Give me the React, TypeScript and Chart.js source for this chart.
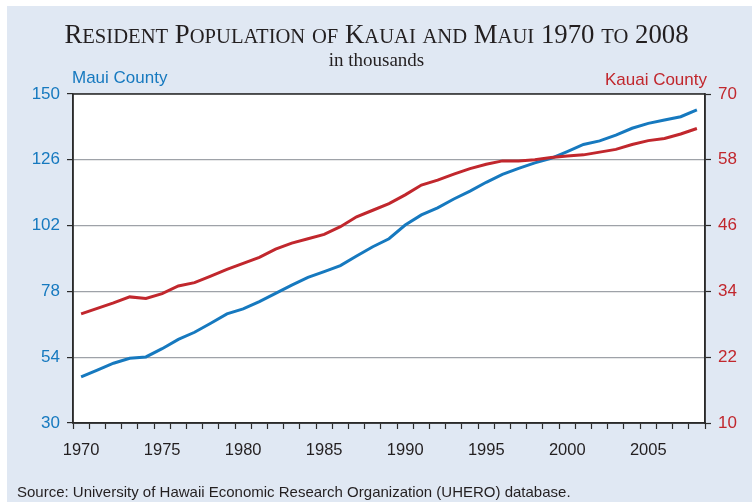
import React, { useEffect, useRef } from 'react';
import { Chart, registerables } from 'chart.js';

Chart.register(...registerables);

const years = [
  '1970', '1971', '1972', '1973', '1974', '1975', '1976', '1977', '1978', '1979',
  '1980', '1981', '1982', '1983', '1984', '1985', '1986', '1987', '1988', '1989',
  '1990', '1991', '1992', '1993', '1994', '1995', '1996', '1997', '1998', '1999',
  '2000', '2001', '2002', '2003', '2004', '2005', '2006', '2007', '2008',
];

// Maui County resident population (thousands), left axis
const mauiValues = [
  46.8, 49.3, 51.8, 53.6, 54.1, 57.1, 60.5, 63.1, 66.4, 69.8,
  71.6, 74.3, 77.3, 80.3, 83.1, 85.2, 87.4, 90.9, 94.3, 97.2,
  102.2, 105.9, 108.5, 111.7, 114.6, 117.8, 120.7, 122.9, 124.9, 126.5,
  129.0, 131.6, 132.9, 135.0, 137.5, 139.3, 140.5, 141.7, 144.2,
];

// Kauai County resident population (thousands), right axis
const kauaiValues = [
  29.9, 30.9, 31.9, 33.0, 32.7, 33.6, 35.0, 35.6, 36.8, 38.0,
  39.1, 40.2, 41.7, 42.8, 43.6, 44.4, 45.8, 47.6, 48.8, 50.0,
  51.6, 53.4, 54.3, 55.4, 56.4, 57.2, 57.8, 57.8, 58.0, 58.4,
  58.7, 58.9, 59.4, 59.9, 60.8, 61.5, 61.9, 62.7, 63.7,
];

const leftTicks = [30, 54, 78, 102, 126, 150];
const rightTicks = [10, 22, 34, 46, 58, 70];

const titleText = 'Resident Population of Kauai and Maui 1970 to 2008';
const subtitleText = 'in thousands';
const leftAxisName = 'Maui County';
const rightAxisName = 'Kauai County';
const sourceText = 'Source: University of Hawaii Economic Research Organization (UHERO) database.';

const BLUE = '#1679bf';
const RED = '#c1272d';
const PANEL = '#e0e8f3';
const SANS = '"Liberation Sans", Arial, sans-serif';
const SERIF = '"Liberation Serif", "Times New Roman", serif';

function drawSmallCaps(
  ctx: CanvasRenderingContext2D,
  text: string,
  cx: number,
  baseline: number,
  big: number,
  small: number
) {
  const segs: { t: string; size: number }[] = [];
  for (const ch of text) {
    const lower = ch !== ch.toUpperCase();
    const size = lower ? small : big;
    const t = lower ? ch.toUpperCase() : ch;
    const last = segs[segs.length - 1];
    if (last && last.size === size) last.t += t;
    else segs.push({ t, size });
  }
  let total = 0;
  const widths: number[] = [];
  for (const s of segs) {
    ctx.font = `${s.size}px ${SERIF}`;
    const w = ctx.measureText(s.t).width;
    widths.push(w);
    total += w;
  }
  let x = cx - total / 2;
  ctx.textAlign = 'left';
  ctx.textBaseline = 'alphabetic';
  segs.forEach((s, i) => {
    ctx.font = `${s.size}px ${SERIF}`;
    ctx.fillText(s.t, x, baseline);
    x += widths[i];
  });
}

const decorPlugin = {
  id: 'decor',
  beforeDraw(chart: any) {
    const { ctx, chartArea, width, height } = chart;
    ctx.save();
    ctx.fillStyle = PANEL;
    ctx.fillRect(0, 0, width, height);
    ctx.fillStyle = '#ffffff';
    ctx.fillRect(chartArea.left, chartArea.top, chartArea.right - chartArea.left, chartArea.bottom - chartArea.top);
    ctx.restore();
  },
  afterDraw(chart: any) {
    const { ctx, chartArea } = chart;
    ctx.save();
    ctx.strokeStyle = '#2b2b2b';
    ctx.lineWidth = 1.5;
    ctx.strokeRect(chartArea.left, chartArea.top, chartArea.right - chartArea.left, chartArea.bottom - chartArea.top);

    ctx.fillStyle = '#231f20';
    drawSmallCaps(ctx, titleText, 369.5, 37, 26.8, 20.6);

    ctx.font = `19px ${SERIF}`;
    ctx.textAlign = 'center';
    ctx.textBaseline = 'alphabetic';
    ctx.fillText(subtitleText, 369.5, 60);

    ctx.font = `17px ${SANS}`;
    ctx.fillStyle = BLUE;
    ctx.textAlign = 'left';
    ctx.fillText(leftAxisName, chartArea.left - 1, 77);
    ctx.fillStyle = RED;
    ctx.textAlign = 'right';
    ctx.fillText(rightAxisName, chartArea.right + 2, 79);

    ctx.font = `15px ${SANS}`;
    ctx.fillStyle = '#231f20';
    ctx.textAlign = 'left';
    ctx.fillText(sourceText, 10, 491);
    ctx.restore();
  },
};

export default function App() {
  const canvasRef = useRef<HTMLCanvasElement | null>(null);

  useEffect(() => {
    const canvas = canvasRef.current;
    if (!canvas) return;
    const chart = new Chart(canvas, {
      type: 'line',
      data: {
        labels: years,
        datasets: [
          {
            label: 'Kauai County',
            data: kauaiValues,
            yAxisID: 'y1',
            borderColor: RED,
            backgroundColor: RED,
            borderWidth: 3,
            pointRadius: 0,
            tension: 0,
            fill: false,
          },
          {
            label: 'Maui County',
            data: mauiValues,
            yAxisID: 'y',
            borderColor: BLUE,
            backgroundColor: BLUE,
            borderWidth: 3,
            pointRadius: 0,
            tension: 0,
            fill: false,
          },
        ],
      },
      options: {
        responsive: false,
        animation: false,
        events: [],
        layout: { padding: { top: 88, bottom: 39, left: 0, right: 0 } },
        plugins: {
          legend: { display: false },
          tooltip: { enabled: false },
          title: { display: false },
        },
        scales: {
          x: {
            type: 'category',
            offset: true,
            grid: {
              offset: true,
              drawOnChartArea: false,
              drawTicks: true,
              tickLength: 6,
              tickColor: '#2b2b2b',
              tickWidth: 1.2,
              color: '#2b2b2b',
            },
            border: { display: true, color: '#2b2b2b', width: 1.5 },
            ticks: {
              autoSkip: false,
              maxRotation: 0,
              minRotation: 0,
              padding: 12,
              color: '#231f20',
              font: { family: SANS, size: 16.5 },
              callback: (_v: any, i: number) => (Number(years[i]) % 5 === 0 ? years[i] : ''),
            },
            afterFit: (s: any) => {
              s.height = 40;
            },
          },
          y: {
            type: 'linear',
            position: 'left',
            min: leftTicks[0],
            max: leftTicks[leftTicks.length - 1],
            afterBuildTicks: (s: any) => {
              s.ticks = leftTicks.map((v) => ({ value: v }));
            },
            grid: {
              color: '#9ea2a8',
              lineWidth: 1.2,
              drawTicks: true,
              tickLength: 6,
              tickColor: '#2b2b2b',
              tickWidth: 1.2,
            },
            border: { display: true, color: '#2b2b2b', width: 1.5 },
            ticks: {
              padding: 7,
              color: BLUE,
              font: { family: SANS, size: 17 },
            },
            afterFit: (s: any) => {
              s.width = 66;
            },
          },
          y1: {
            type: 'linear',
            position: 'right',
            min: rightTicks[0],
            max: rightTicks[rightTicks.length - 1],
            afterBuildTicks: (s: any) => {
              s.ticks = rightTicks.map((v) => ({ value: v }));
            },
            grid: {
              drawOnChartArea: false,
              drawTicks: true,
              tickLength: 6,
              tickColor: '#2b2b2b',
              tickWidth: 1.2,
            },
            border: { display: true, color: '#2b2b2b', width: 1.5 },
            ticks: {
              padding: 7,
              color: RED,
              font: { family: SANS, size: 17 },
            },
            afterFit: (s: any) => {
              s.width = 47;
            },
          },
        },
      },
      plugins: [decorPlugin],
    } as any);
    return () => chart.destroy();
  }, []);

  return (
    <div style={{ position: 'absolute', left: 7, top: 6, width: 745, height: 496 }}>
      <canvas ref={canvasRef} width={745} height={496} style={{ display: 'block' }} />
    </div>
  );
}
